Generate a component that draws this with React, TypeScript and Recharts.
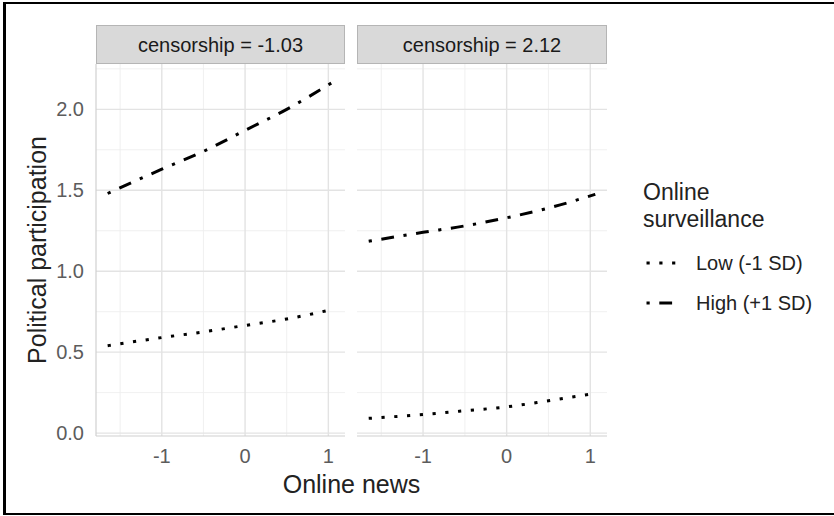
import React from 'react';
import { LineChart, Line, XAxis, YAxis, ReferenceLine } from 'recharts';

// ---- data ----
const newsX = [-1.65, -1, -0.5, 0, 0.5, 1.06];
const panelLabels = ['censorship = -1.03', 'censorship = 2.12'];
const lowCensLow = [0.54, 0.59, 0.625, 0.665, 0.705, 0.765];
const lowCensHigh = [1.48, 1.63, 1.74, 1.87, 2.0, 2.17];
const highCensLow = [0.091, 0.115, 0.138, 0.162, 0.2, 0.245];
const highCensHigh = [1.185, 1.24, 1.28, 1.33, 1.39, 1.475];
const xTicks = [-1, 0, 1];
const xMinor = [-1.5, -0.5, 0.5];
const yTicks = [0, 0.5, 1, 1.5, 2];
const yMinor = [0.25, 0.75, 1.25, 1.75, 2.25];
const legendTitle = ['Online', 'surveillance'];
const legendLabels = ['Low (-1 SD)', 'High (+1 SD)'];
const xTitle = 'Online news';
const yTitle = 'Political participation';

const FONT = '"Liberation Sans", Arial, Helvetica, sans-serif';
const DOT = '3.2 9.6';
const DOTDASH = '3.2 9.6 12.8 9.6';

const buildRows = (low: number[], high: number[]) =>
  newsX.map((x, i) => ({ x, low: low[i], high: high[i] }));

const panelData = [buildRows(lowCensLow, lowCensHigh), buildRows(highCensLow, highCensHigh)];

type PanelProps = { data: any[]; showY: boolean; left: number; width: number; mLeft: number; mRight: number };

function Panel({ data, showY, left, width, mLeft, mRight }: PanelProps) {
  return (
    <div style={{ position: 'absolute', left, top: 0 }}>
      <LineChart width={width} height={516} data={data} margin={{ top: 64, right: mRight, bottom: 50, left: mLeft }}>
        {yMinor.map((v) => (
          <ReferenceLine key={'ym' + v} y={v} stroke="#eeeeee" strokeWidth={0.9} ifOverflow="hidden" />
        ))}
        {xMinor.map((v) => (
          <ReferenceLine key={'xm' + v} x={v} stroke="#eeeeee" strokeWidth={0.9} ifOverflow="hidden" />
        ))}
        {yTicks.map((v) => (
          <ReferenceLine key={'yM' + v} y={v} stroke="#e3e3e3" strokeWidth={1.4} ifOverflow="hidden" />
        ))}
        {xTicks.map((v) => (
          <ReferenceLine key={'xM' + v} x={v} stroke="#e3e3e3" strokeWidth={1.4} ifOverflow="hidden" />
        ))}
        <XAxis
          type="number"
          dataKey="x"
          domain={[-1.79, 1.2]}
          ticks={xTicks}
          interval={0}
          allowDataOverflow
          tickLine={false}
          axisLine={{ stroke: '#d0d0d0', strokeWidth: 1.2 }}
          tick={{ fill: '#5c5c5c', fontSize: 20, fontFamily: FONT }}
          tickSize={6}
          tickMargin={7}
          height={30}
        />
        <YAxis
          type="number"
          domain={[-0.018, 2.28]}
          ticks={yTicks}
          interval={0}
          allowDataOverflow
          hide={!showY}
          width={60}
          tickLine={false}
          axisLine={{ stroke: '#d0d0d0', strokeWidth: 1.2 }}
          tick={{ fill: '#5c5c5c', fontSize: 20, fontFamily: FONT }}
          tickSize={6}
          tickMargin={6}
          tickFormatter={(v: number) => v.toFixed(1)}
        />
        <Line
          type="monotone"
          dataKey="low"
          stroke="#000"
          strokeWidth={3}
          strokeDasharray={DOT}
          dot={false}
          activeDot={false}
          isAnimationActive={false}
        />
        <Line
          type="monotone"
          dataKey="high"
          stroke="#000"
          strokeWidth={3}
          strokeDasharray={DOTDASH}
          dot={false}
          activeDot={false}
          isAnimationActive={false}
        />
      </LineChart>
    </div>
  );
}

export default function App() {
  const strips = [
    { x: 96, w: 249 },
    { x: 357, w: 250 },
  ];
  return (
    <div
      style={{
        position: 'absolute',
        left: 0,
        top: 0,
        width: 834,
        height: 516,
        background: '#fff',
        overflow: 'hidden',
        fontFamily: FONT,
      }}
    >
      <Panel data={panelData[0]} showY={true} left={0} width={350} mLeft={36} mRight={5} />
      <Panel data={panelData[1]} showY={false} left={300} width={310} mLeft={57} mRight={3} />
      <svg
        width={834}
        height={516}
        style={{ position: 'absolute', left: 0, top: 0, pointerEvents: 'none' }}
        fontFamily={FONT}
      >
        {/* outer frame */}
        <line x1={4.5} y1={2} x2={4.5} y2={515} stroke="#000" strokeWidth={3} />
        <line x1={3} y1={3} x2={834} y2={3} stroke="#000" strokeWidth={2} />
        <line x1={3} y1={514} x2={834} y2={514} stroke="#000" strokeWidth={2} />
        {/* strips */}
        {strips.map((s, i) => (
          <g key={i}>
            <rect x={s.x + 0.5} y={25.5} width={s.w - 1} height={38} fill="#d9d9d9" stroke="#b5b5b5" strokeWidth={1} />
            <text x={s.x + s.w / 2} y={52} textAnchor="middle" fontSize={20} fill="#1a1a1a">
              {panelLabels[i]}
            </text>
          </g>
        ))}
        {/* axis titles */}
        <text x={351.5} y={493} textAnchor="middle" fontSize={25} fill="#222">
          {xTitle}
        </text>
        <text
          transform="translate(46,250) rotate(-90)"
          x={0}
          y={0}
          textAnchor="middle"
          fontSize={25}
          fill="#222"
        >
          {yTitle}
        </text>
        {/* legend */}
        <text x={643} y={200} fontSize={23} fill="#222">
          {legendTitle[0]}
        </text>
        <text x={643} y={227} fontSize={23} fill="#222">
          {legendTitle[1]}
        </text>
        <line x1={646.5} y1={263} x2={680} y2={263} stroke="#000" strokeWidth={3} strokeDasharray={DOT} />
        <line x1={646.5} y1={303} x2={680} y2={303} stroke="#000" strokeWidth={3} strokeDasharray={DOTDASH} />
        <text x={696} y={270} fontSize={20} fill="#222">
          {legendLabels[0]}
        </text>
        <text x={696} y={310} fontSize={20} fill="#222">
          {legendLabels[1]}
        </text>
      </svg>
    </div>
  );
}
